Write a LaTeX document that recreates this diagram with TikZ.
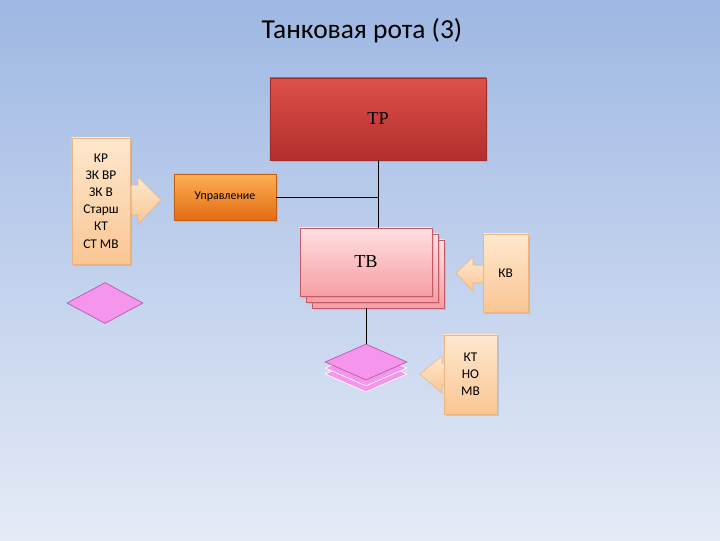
\documentclass[tikz,border=0pt]{standalone}
\usepackage{fontspec}
\setmainfont{Carlito}
\newfontfamily\serfont{Liberation Serif}
\usepackage{tikz}
\usetikzlibrary{shapes.geometric,shadows}

\definecolor{bgtop}{RGB}{158,184,227}
\definecolor{bgbot}{RGB}{229,235,247}
\definecolor{peachtop}{RGB}{254,232,206}
\definecolor{peachbot}{RGB}{250,198,148}
\definecolor{peachline}{RGB}{236,180,126}
\definecolor{orgtop}{RGB}{251,176,86}
\definecolor{orgbot}{RGB}{228,108,18}
\definecolor{orgline}{RGB}{196,96,20}
\definecolor{redtop}{RGB}{222,80,74}
\definecolor{redbot}{RGB}{178,46,44}
\definecolor{redline}{RGB}{160,44,44}
\definecolor{pinktop}{RGB}{255,224,226}
\definecolor{pinkbot}{RGB}{247,158,164}
\definecolor{pinkline}{RGB}{196,92,104}
\definecolor{lilac}{RGB}{245,150,236}
\definecolor{lilacline}{RGB}{184,88,176}

\tikzset{
  shad/.style={drop shadow={opacity=0.25,shadow xshift=0.06cm,shadow yshift=-0.06cm}},
  peachbox/.style={shad,top color=peachtop,bottom color=peachbot,draw=peachline,
    line width=0.4pt,inner sep=0pt,align=center,font=\fontsize{9.5}{12.2}\selectfont},
  peacharrow/.style={top color=peachtop,bottom color=peachbot,draw=peachline,line width=0.4pt},
  orgbox/.style={shad,top color=orgtop,bottom color=orgbot,draw=orgline,
    line width=0.4pt,inner sep=0pt,font=\fontsize{8.5}{10}\selectfont},
  redbox/.style={shad,top color=redtop,bottom color=redbot,draw=redline,
    line width=0.4pt,inner sep=0pt,font=\fontsize{13}{15}\selectfont\serfont},
  pinkbox/.style={shad,top color=pinktop,bottom color=pinkbot,draw=pinkline,
    line width=0.4pt,inner sep=0pt,minimum width=3.3cm,minimum height=1.7cm,
    font=\fontsize{13}{15}\selectfont\serfont},
  gem/.style={diamond,fill=lilac,draw=lilacline,line width=0.5pt,inner sep=0pt,
    minimum width=2.05cm,minimum height=0.9cm},
  link/.style={line width=0.6pt}
}

\begin{document}
\begin{tikzpicture}[x=0.025cm,y=-0.025cm]
  \shade[top color=bgtop,bottom color=bgbot] (0,0) rectangle (720,540);
  \useasboundingbox (0,0) rectangle (720,540);

  \node (title) at (362,31) {\fontsize{19.5}{23}\selectfont Танковая рота (3)};

  % top of the chain
  \node[redbox,minimum width=5.4cm,minimum height=2.05cm] (tr) at (378,119) {ТР};
  \node[orgbox,minimum width=2.55cm,minimum height=1.15cm] (upr) at (225,197) {Управление};

  % left group
  \shade[peacharrow] (128,185) -- (138,185) -- (138,177) -- (161,200)
    -- (138,224) -- (138,215) -- (128,215) -- cycle;
  \node[peachbox,minimum width=1.45cm,minimum height=3.15cm] (kr) at (101,201)
    {КР\\ЗК ВР\\ЗК В\\Старш\\КТ\\СТ МВ};
  \node[gem,minimum width=1.9cm,minimum height=1.025cm] (gemleft) at (105,303) {};

  % platoons
  \node[pinkbox] (tv3) at (378,274) {};
  \node[pinkbox] (tv2) at (372,268) {};
  \node[pinkbox] (tv) at (366,262) {ТВ};

  \shade[peacharrow] (486,265) -- (473,265) -- (473,257) -- (456,273)
    -- (473,291) -- (473,283) -- (486,283) -- cycle;
  \node[peachbox,minimum width=1.125cm,minimum height=1.95cm] (kv) at (505.5,273) {КВ};

  % tanks
  \node[gem,draw=white] (gem3) at (366,374) {};
  \node[gem,draw=white] (gem2) at (366,368) {};
  \node[gem] (gem1) at (366,362) {};

  \shade[peacharrow] (447,363) -- (442,363) -- (442,356) -- (420,374)
    -- (442,393) -- (442,385) -- (447,385) -- cycle;
  \node[peachbox,minimum width=1.325cm,minimum height=1.975cm] (kt) at (470.5,374.5)
    {КТ\\НО\\МВ};

  \draw[link] (tr.south) -- (tr.south |- tv.north);
  \draw[link] (upr.east) -- (upr.east -| tr.south);
  \draw[link] (gem1.north |- tv3.south) -- (gem1.north);
\end{tikzpicture}
\end{document}
